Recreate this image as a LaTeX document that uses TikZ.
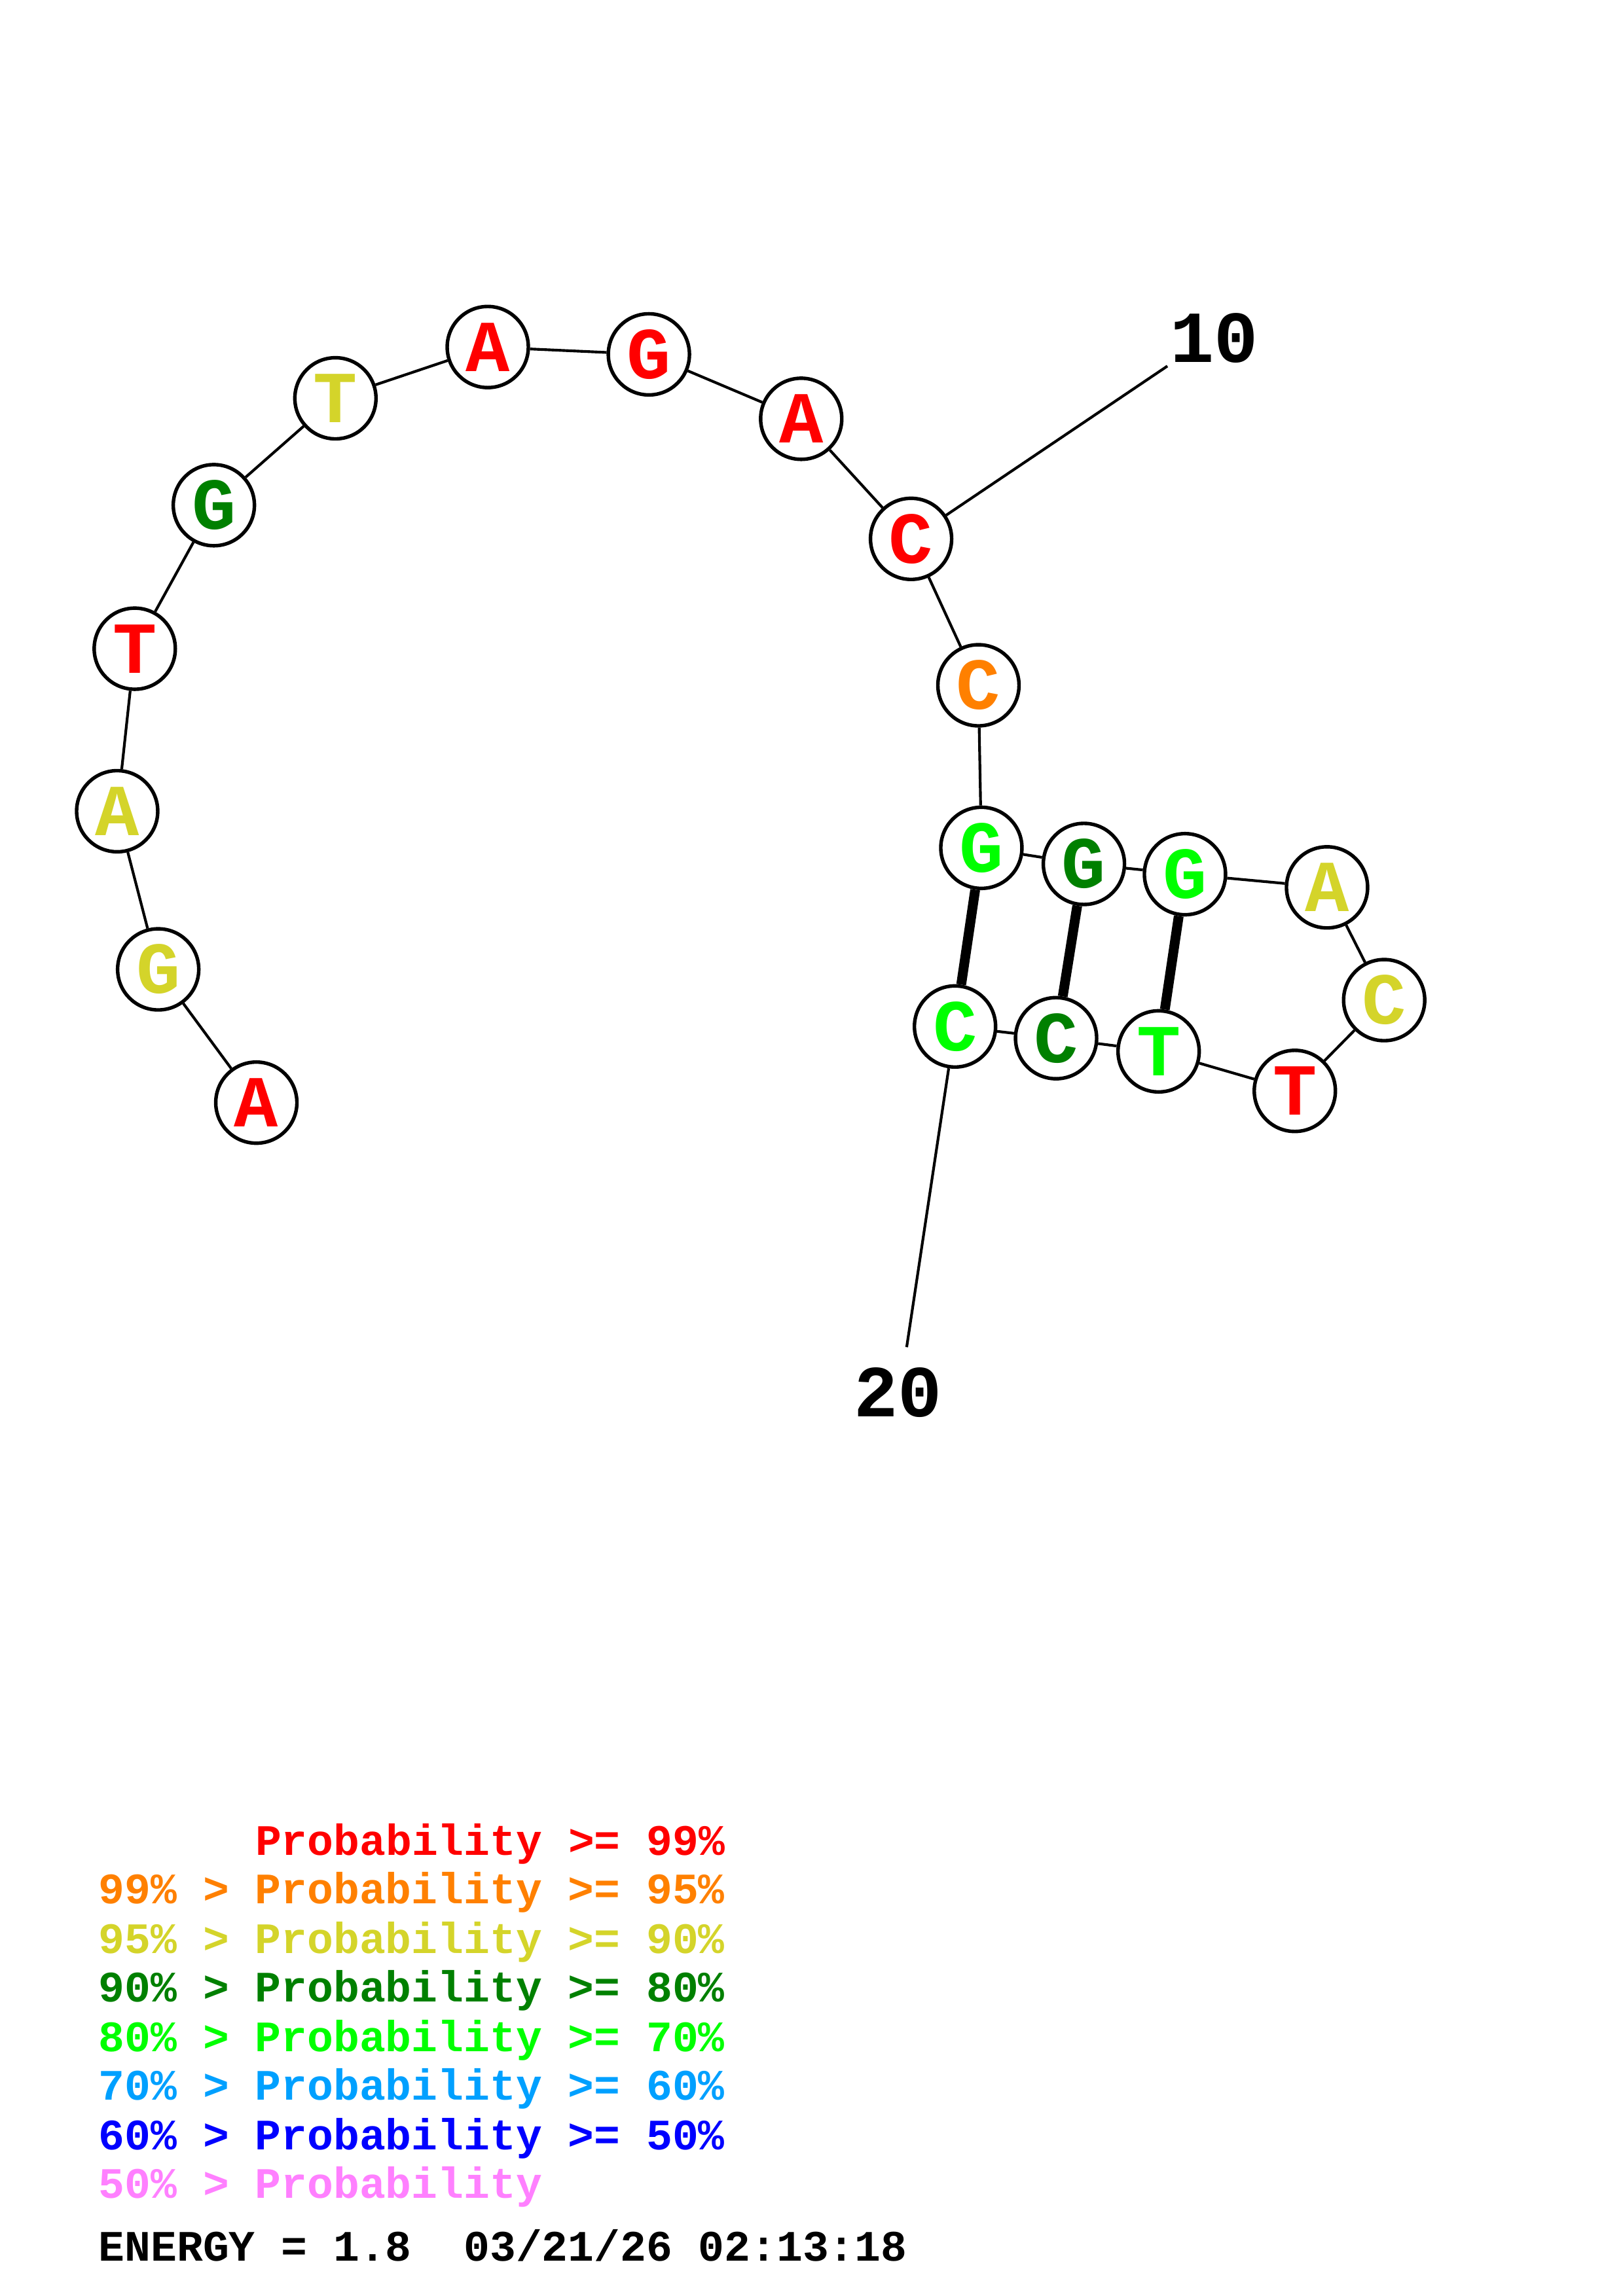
\documentclass[tikz,border=0pt]{standalone}
\usepackage{fontspec}
\setmonofont{Liberation Mono}
\definecolor{pr99}{RGB}{255,0,0}
\definecolor{pr95}{RGB}{255,128,0}
\definecolor{pr90}{RGB}{212,212,42}
\definecolor{pr80}{RGB}{0,128,0}
\definecolor{pr70}{RGB}{0,255,0}
\definecolor{pr60}{RGB}{0,160,255}
\definecolor{pr50}{RGB}{0,0,255}
\definecolor{pr00}{RGB}{255,128,255}

\begin{document}
\begin{tikzpicture}[x=0.018953cm,y=-0.018953cm]
      \tikzset{
        nuc/.style={circle,draw,line width=1.3pt,fill=white,inner sep=0pt,minimum size=1.05cm,
          font=\ttfamily\bfseries\fontsize{27}{27}\selectfont},
        numlbl/.style={inner sep=0pt,font=\ttfamily\bfseries\fontsize{27}{27}\selectfont},
        key/.style={anchor=base west,inner sep=0pt,font=\ttfamily\bfseries\fontsize{16}{16}\selectfont},
        bb/.style={line width=1pt},
        pair/.style={line width=3.6pt}
      }
      \useasboundingbox (0,0) rectangle (1108,1568);

      % strand
      \node[nuc,text=pr99] (n1) at (175,753) {A};
      \node[nuc,text=pr90] (n2) at (108,662) {G};
      \node[nuc,text=pr90] (n3) at (80,554) {A};
      \node[nuc,text=pr99] (n4) at (92,443) {T};
      \node[nuc,text=pr80] (n5) at (146,345) {G};
      \node[nuc,text=pr90] (n6) at (229,272) {T};
      \node[nuc,text=pr99] (n7) at (333,237) {A};
      \node[nuc,text=pr99] (n8) at (443,242) {G};
      \node[nuc,text=pr99] (n9) at (547,286) {A};
      \node[nuc,text=pr99] (n10) at (622,368) {C};
      \node[nuc,text=pr95] (n11) at (668,468) {C};
      \node[nuc,text=pr70] (n12) at (670,579) {G};
      \node[nuc,text=pr80] (n13) at (740,590) {G};
      \node[nuc,text=pr70] (n14) at (809,597) {G};
      \node[nuc,text=pr90] (n15) at (906,606) {A};
      \node[nuc,text=pr90] (n16) at (945,683) {C};
      \node[nuc,text=pr99] (n17) at (884,745) {T};
      \node[nuc,text=pr70] (n18) at (791,718) {T};
      \node[nuc,text=pr80] (n19) at (721,709) {C};
      \node[nuc,text=pr70] (n20) at (652,701) {C};

      % numbering
      \coordinate (t10) at (797,250);
      \node[numlbl] (l10) at (829,231) {10};
      \coordinate (t20) at (619,920);
      \node[numlbl] (l20) at (613,951) {20};

      \draw[bb] (n1) -- (n2) -- (n3) -- (n4) -- (n5) -- (n6) -- (n7) -- (n8) -- (n9) -- (n10)
                -- (n11) -- (n12) -- (n13) -- (n14) -- (n15) -- (n16) -- (n17) -- (n18) -- (n19) -- (n20);
      \draw[bb] (n10) -- (t10)
                (n20) -- (t20);
      \draw[pair] (n12) -- (n20)
                  (n13) -- (n19)
                  (n14) -- (n18);

      % legend
      \node[key,text=pr99] (k99) at (174,1267) {Probability >= 99\%};
      \node[key,text=pr95] (k95) at (67,1300) {99\% > Probability >= 95\%};
      \node[key,text=pr90] (k90) at (67,1334) {95\% > Probability >= 90\%};
      \node[key,text=pr80] (k80) at (67,1367) {90\% > Probability >= 80\%};
      \node[key,text=pr70] (k70) at (67,1401) {80\% > Probability >= 70\%};
      \node[key,text=pr60] (k60) at (67,1434) {70\% > Probability >= 60\%};
      \node[key,text=pr50] (k50) at (67,1468) {60\% > Probability >= 50\%};
      \node[key,text=pr00] (k00) at (67,1501) {50\% > Probability};
      \node[key] (energy) at (67,1544) {ENERGY = 1.8\ \ 03/21/26 02:13:18};
\end{tikzpicture}
\end{document}
